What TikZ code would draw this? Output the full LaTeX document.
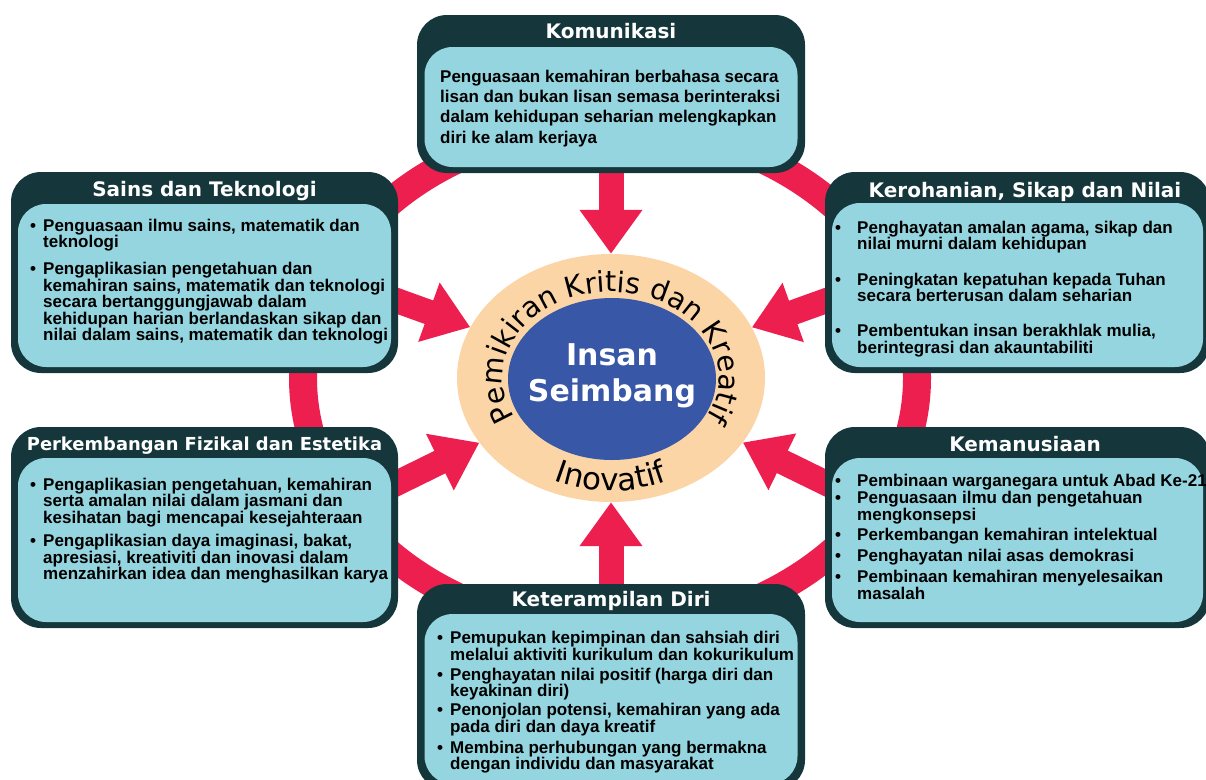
\documentclass[tikz,border=0pt]{standalone}
\usepackage{fontspec}
\setmainfont{Liberation Sans}
\newfontfamily\headfam{DejaVu Sans}
\usetikzlibrary{arrows.meta}
\usetikzlibrary{shapes.geometric}
\usetikzlibrary{decorations.text}
\usetikzlibrary{positioning}

\definecolor{boxdark}{RGB}{21,55,59}
\definecolor{boxlight}{RGB}{149,213,223}
\definecolor{ringred}{RGB}{236,31,79}
\definecolor{peach}{RGB}{252,213,167}
\definecolor{coreblue}{RGB}{56,87,167}

\pgfdeclarelayer{back}
\pgfsetlayers{back,main}

\newcommand{\blt}{\makebox[13pt][l]{\textbullet}}
\newcommand{\nxt}{\hspace*{13pt}}
\newcommand{\bltw}{\makebox[22pt][l]{\textbullet}}
\newcommand{\nxtw}{\hspace*{22pt}}
\newcommand{\curvefont}{\headfam\fontsize{28.5}{28.5}\selectfont}
\newcommand{\lowfont}{\headfam\fontsize{31}{31}\selectfont}

\tikzset{
  outerbox/.style={fill=boxdark, rounded corners=30pt, inner sep=0pt},
  innerbox/.style={fill=boxlight, rounded corners=28pt, inner sep=0pt},
  headtext/.style={text=white, inner sep=0pt, anchor=base,
    font=\headfam\bfseries\fontsize{20}{20}\selectfont},
  % base of a multi-line node sits on its last line
  bodytext/.style={text=black, inner sep=0pt, anchor=base west, align=left,
    font=\bfseries\fontsize{17}{16.5}\selectfont},
  coretext/.style={text=white, inner sep=0pt, anchor=base,
    font=\headfam\bfseries\fontsize{30}{30}\selectfont},
  bigarrow/.style={draw=ringred, line width=25pt, -{Triangle[width=60pt,length=44pt]}},
}

\begin{document}
\begin{tikzpicture}[x=1pt,y=1pt]
\useasboundingbox (0,0) rectangle (1206,-779);
\clip (0,0) rectangle (1206,-779);

% centre
\node[ellipse, fill=peach, minimum width=308pt, minimum height=248pt, inner sep=0pt] (core) at (611,-378) {};
\node[ellipse, fill=coreblue, minimum width=208pt, minimum height=162pt, inner sep=0pt] (seimbang) at (612,-379) {};
\node[coretext] (insan-txt) at (612,-365) {Insan};
\node[coretext] (seimbang-txt) at (612,-401) {Seimbang};
\path[decorate, decoration={text along path, text align=center,
    text={|\curvefont|Pemikiran Kritis dan Kreatif}}]
  ([shift={(215:108 and 86)}]core.center) arc[start angle=215, end angle=-35, x radius=108, y radius=86];
\path[decorate, decoration={text along path, text align=center,
    text={|\lowfont|Inovatif}}]
  ([shift={(225:136 and 113)}]core.center) arc[start angle=225, end angle=315, x radius=136, y radius=113];

% Komunikasi
\node[outerbox, minimum width=388pt, minimum height=158pt] (komunikasi) at (611,-94) {};
\node[innerbox, minimum width=373pt, minimum height=120pt, anchor=south] (komunikasi-in) at ([yshift=6pt]komunikasi.south) {};
\node[headtext] (komunikasi-head) at ([yshift=-24pt]komunikasi.north) {Komunikasi};
\node[bodytext, font=\bfseries\fontsize{17}{20.3}\selectfont] (komunikasi-body) at (440,-143) {Penguasaan kemahiran berbahasa secara\\
lisan dan bukan lisan semasa berinteraksi\\
dalam kehidupan seharian melengkapkan\\
diri ke alam kerjaya};

% Sains dan Teknologi
\node[outerbox, minimum width=387pt, minimum height=201pt] (sains) at (204.5,-272.5) {};
\node[innerbox, minimum width=373pt, minimum height=163pt, anchor=south] (sains-in) at ([yshift=6pt]sains.south) {};
\node[headtext] (sains-head) at ([yshift=-25pt]sains.north) {Sains dan Teknologi};
\node[bodytext] (sains-body) at (30,-340.5) {\blt Penguasaan ilmu sains, matematik dan\\
\nxt teknologi\\[10.5pt]
\blt Pengaplikasian pengetahuan dan\\
\nxt kemahiran sains, matematik dan teknologi\\
\nxt secara bertanggungjawab dalam\\
\nxt kehidupan harian berlandaskan sikap dan\\
\nxt nilai dalam sains, matematik dan teknologi};

% Kerohanian, Sikap dan Nilai
\node[outerbox, minimum width=385pt, minimum height=201pt] (kerohanian) at (1017.5,-272.5) {};
\node[innerbox, minimum width=371pt, minimum height=164pt, anchor=south] (kerohanian-in) at ([yshift=6pt]kerohanian.south) {};
\node[headtext] (kerohanian-head) at (1025,-197) {Kerohanian, Sikap dan Nilai};
\node[bodytext] (kerohanian-body) at (835,-353) {\bltw Penghayatan amalan agama, sikap dan\\
\nxtw nilai murni dalam kehidupan\\[19pt]
\bltw Peningkatan kepatuhan kepada Tuhan\\
\nxtw secara berterusan dalam seharian\\[18.5pt]
\bltw Pembentukan insan berakhlak mulia,\\
\nxtw berintegrasi dan akauntabiliti};

% Perkembangan Fizikal dan Estetika
\node[outerbox, minimum width=387pt, minimum height=201pt] (fizikal) at (204.5,-527.5) {};
\node[innerbox, minimum width=373pt, minimum height=164pt, anchor=south] (fizikal-in) at ([yshift=6pt]fizikal.south) {};
\node[headtext, font=\headfam\bfseries\fontsize{17.9}{18}\selectfont] (fizikal-head) at ([yshift=-24pt]fizikal.north) {Perkembangan Fizikal dan Estetika};
\node[bodytext] (fizikal-body) at (30,-579.5) {\blt Pengaplikasian pengetahuan, kemahiran\\
\nxt serta amalan nilai dalam jasmani dan\\
\nxt kesihatan bagi mencapai kesejahteraan\\[7pt]
\blt Pengaplikasian daya imaginasi, bakat,\\
\nxt apresiasi, kreativiti dan inovasi dalam\\
\nxt menzahirkan idea dan menghasilkan karya};

% Kemanusiaan
\node[outerbox, minimum width=385pt, minimum height=201pt] (kemanusiaan) at (1017.5,-527.5) {};
\node[innerbox, minimum width=371pt, minimum height=164pt, anchor=south] (kemanusiaan-in) at ([yshift=6pt]kemanusiaan.south) {};
\node[headtext] (kemanusiaan-head) at (1025,-451) {Kemanusiaan};
\node[bodytext] (kemanusiaan-body) at (835,-599) {\bltw Pembinaan warganegara untuk Abad Ke-21\\[1pt]
\bltw Penguasaan ilmu dan pengetahuan\\
\nxtw mengkonsepsi\\[4pt]
\bltw Perkembangan kemahiran intelektual\\[4pt]
\bltw Penghayatan nilai asas demokrasi\\[5pt]
\bltw Pembinaan kemahiran menyelesaikan\\
\nxtw masalah};

% Keterampilan Diri
\node[outerbox, minimum width=388pt, minimum height=206pt] (keterampilan) at (611,-687) {};
\node[innerbox, minimum width=373pt, minimum height=170pt, anchor=south] (keterampilan-in) at ([yshift=6pt]keterampilan.south) {};
\node[headtext] (keterampilan-head) at ([yshift=-23pt]keterampilan.north) {Keterampilan Diri};
\node[bodytext] (keterampilan-body) at (437,-769.5) {\blt Pemupukan kepimpinan dan sahsiah diri\\
\nxt melalui aktiviti kurikulum dan kokurikulum\\[3.5pt]
\blt Penghayatan nilai positif (harga diri dan\\
\nxt keyakinan diri)\\[2.5pt]
\blt Penonjolan potensi, kemahiran yang ada\\
\nxt pada diri dan daya kreatif\\[4.5pt]
\blt Membina perhubungan yang bermakna\\
\nxt dengan individu dan masyarakat};

% ring and arrows behind the boxes
\begin{pgfonlayer}{back}
\draw[ringred, line width=28pt] (610,-378) ellipse[x radius=307, y radius=252];
\coordinate (sains-out) at ([xshift=-10pt, yshift=-25pt]sains.east);
\coordinate (fizikal-out) at ([xshift=-10pt, yshift=40pt]fizikal.east);
\coordinate (kerohanian-out) at ([xshift=10pt, yshift=-25pt]kerohanian.west);
\coordinate (kemanusiaan-out) at ([xshift=10pt, yshift=40pt]kemanusiaan.west);
\draw[bigarrow] (komunikasi.south) -- (core);
\draw[bigarrow] (keterampilan.north) -- (core);
\draw[bigarrow] (sains-out) -- (core);
\draw[bigarrow] (fizikal-out) -- (core);
\draw[bigarrow] (kerohanian-out) -- (core);
\draw[bigarrow] (kemanusiaan-out) -- (core);
\end{pgfonlayer}
\end{tikzpicture}
\end{document}
